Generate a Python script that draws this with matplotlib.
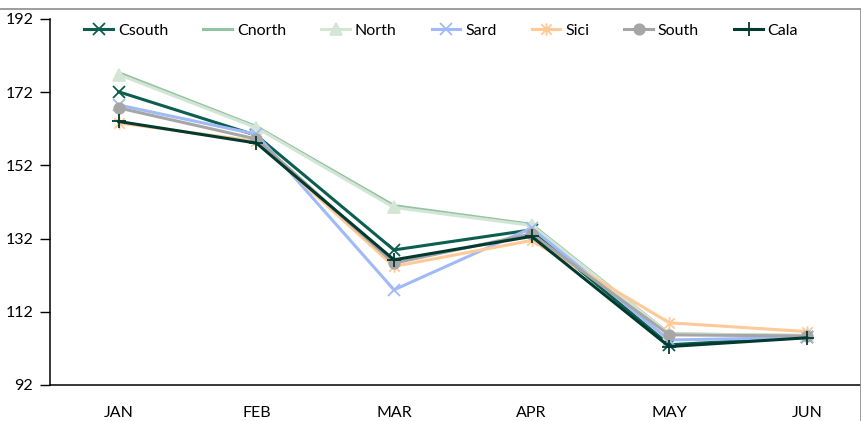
import numpy as np
import matplotlib.pyplot as plt
from matplotlib.path import Path
from matplotlib.patches import Rectangle

plt.rcParams["font.family"] = ["Lato", "DejaVu Sans"]

MONTHS = ["JAN", "FEB", "MAR", "APR", "MAY", "JUN"]

CSOUTH = [172.1, 160.2, 128.9, 134.4, 103.0, 105.0]
CNORTH = [177.3, 162.6, 141.0, 135.9, 106.0, 105.5]
NORTH = [176.8, 162.3, 140.5, 135.6, 105.9, 105.6]
SARD = [168.5, 160.5, 118.0, 134.9, 104.3, 105.0]
SICI = [163.6, 158.6, 124.4, 131.5, 109.0, 106.6]
SOUTH = [167.7, 159.2, 125.3, 133.3, 105.7, 105.4]
CALA = [164.0, 158.1, 126.2, 132.6, 102.5, 104.9]

# Asterisk marker: an X with a vertical stroke through it
ASTERISK = Path(
    [(-1, -1), (1, 1), (-1, 1), (1, -1), (0, -1.2), (0, 1.2)],
    [Path.MOVETO, Path.LINETO, Path.MOVETO, Path.LINETO, Path.MOVETO, Path.LINETO],
)

SERIES = [
    ("Csouth", CSOUTH, "#0c5e4f", "x", 8),
    ("Cnorth", CNORTH, "#94c3a1", "None", 0),
    ("North", NORTH, "#d3e6d6", "^", 9),
    ("Sard", SARD, "#9fbaf7", "x", 8),
    ("Sici", SICI, "#ffc998", ASTERISK, 9),
    ("South", SOUTH, "#a6a6a6", "o", 7.5),
    ("Cala", CALA, "#033a30", "+", 10),
]

FS = 11.5
W, H = 862, 421
fig = plt.figure(figsize=(W / 100, H / 100), dpi=100)
ax = fig.add_axes([50 / W, (H - 385) / H, (W - 50) / W, (385 - 19) / H])

x = np.arange(len(MONTHS))
handles = []
for name, values, color, marker, msize in SERIES:
    (line,) = ax.plot(
        x,
        values,
        color=color,
        linewidth=2.2,
        marker=marker,
        markersize=msize,
        markeredgewidth=1.3,
        markeredgecolor=color,
        markerfacecolor=color,
        label=name,
    )
    handles.append(line)

ax.set_ylim(92, 192)
ax.set_yticks(np.arange(92, 193, 20))
ax.set_xlim(-0.5, 5 + (W - 806.7) / 137.7)
ax.set_xticks(x)
ax.set_xticklabels(MONTHS)
ax.tick_params(axis="x", length=0, pad=15, labelsize=FS)
ax.tick_params(axis="y", length=7, width=1, direction="out", pad=5, labelsize=FS)
for side in ("top", "right"):
    ax.spines[side].set_visible(False)
for side in ("left", "bottom"):
    ax.spines[side].set_linewidth(1.1)
    ax.spines[side].set_color("black")

fig.legend(
    handles=handles,
    loc="center",
    bbox_to_anchor=(0.512, 1 - 31 / H),
    ncol=7,
    frameon=False,
    fontsize=FS,
    handlelength=1.8,
    handletextpad=0.3,
    columnspacing=2.2,
)

# chart border along the top and right edges
fig.patches.append(
    Rectangle((-0.01, -0.01), 861 / W + 0.01, 1 - 9 / H + 0.01, transform=fig.transFigure,
              fill=False, edgecolor="#8c8c8c", linewidth=1.2)
)

fig.savefig("out.png", dpi=100)
